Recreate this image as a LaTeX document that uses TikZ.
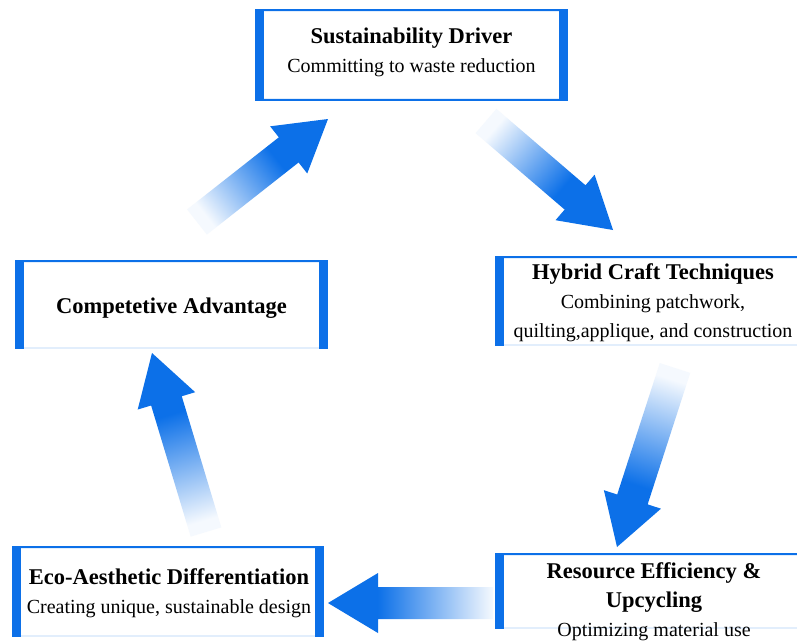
\documentclass[tikz,border=0pt]{standalone}
\usepackage{fontspec}
\setmainfont{Liberation Serif}
\usetikzlibrary{calc}

\definecolor{mainblue}{RGB}{12,112,232}
\pgfdeclarehorizontalshading{arrowfade}{100bp}{color(0bp)=(mainblue!4); color(25bp)=(mainblue!4); color(60bp)=(mainblue); color(100bp)=(mainblue)}
\newcommand{\stagetitle}{\fontsize{22.5}{29}\selectfont\bfseries}

\newcommand{\flowarrow}[2]{%
  \pgfmathanglebetweenpoints{\pgfpointanchor{#1}{center}}{\pgfpointanchor{#2}{center}}%
  \let\flowangle\pgfmathresult
  \path[flow arrow, shading angle=\flowangle]
    ($(#1)!16pt!90:(#2)$) -- ($(#2)!50pt!(#1)!16pt!-90:(#1)$) -- ($(#2)!50pt!(#1)!30pt!-90:(#1)$)
    -- (#2) -- ($(#2)!50pt!(#1)!30pt!90:(#1)$) -- ($(#2)!50pt!(#1)!16pt!90:(#1)$)
    -- ($(#1)!16pt!-90:(#2)$) -- cycle;}

\begin{document}
\begin{tikzpicture}[x=1pt,y=-1pt,
  stage/.style={rectangle,draw=mainblue!12,line width=1.5pt,fill=white,inner sep=0pt},
  sidebar/.style={mainblue,line width=9pt},
  topline/.style={mainblue,line width=2pt},
  stage text/.style={align=center,inner sep=0pt,font=\fontsize{20}{29}\selectfont},
  flow arrow/.style={shade,shading=arrowfade}]

  \fill[white] (0,0) rectangle (797,642);
  \clip (0,0) rectangle (797,642);

  \node[stage,minimum width=311pt,minimum height=88pt] (driver) at (411.5,55) {};
  \node[stage,minimum width=314pt,minimum height=87pt] (hybrid) at (653,301.5) {};
  \node[stage,minimum width=311pt,minimum height=86pt] (advantage) at (171.5,305) {};
  \node[stage,minimum width=310pt,minimum height=88pt] (eco) at (168,592) {};
  \node[stage,minimum width=316pt,minimum height=73pt] (resource) at (654,591.5) {};

  \foreach \n in {driver,hybrid,advantage,eco,resource} {
    \draw[topline] (\n.north west) -- (\n.north east);
    \draw[sidebar] ([xshift=4.5pt]\n.north west) -- ([xshift=4.5pt]\n.south west);
    \draw[sidebar] ([xshift=-4.5pt]\n.north east) -- ([xshift=-4.5pt]\n.south east);
  }
  \draw[topline] (driver.south west) -- (driver.south east);

  \node[stage text] (driverText) at (411.5,52) {{\stagetitle Sustainability Driver}\\Committing to waste reduction};
  \node[stage text] (hybridText) at (653,303) {{\stagetitle Hybrid Craft Techniques}\\Combining patchwork,\\quilting,applique, and construction};
  \node[stage text] (advantageText) at (171.5,308) {{\stagetitle Competetive Advantage}};
  \node[stage text] (ecoText) at (169,593) {{\stagetitle Eco-Aesthetic Differentiation}\\Creating unique, sustainable design};
  \node[stage text] (resourceText) at (654,602) {{\stagetitle Resource Efficiency \&}\\{\stagetitle Upcycling}\\Optimizing material use};

  \coordinate (a1t) at (486,121);
  \coordinate (a1h) at (613,230);
  \coordinate (a2t) at (675,368);
  \coordinate (a2h) at (617,547);
  \coordinate (a3t) at (493,603);
  \coordinate (a3h) at (328,603);
  \coordinate (a4t) at (206,532);
  \coordinate (a4h) at (152,353);
  \coordinate (a5t) at (197,222);
  \coordinate (a5h) at (328,119);

  \flowarrow{a1t}{a1h}
  \flowarrow{a2t}{a2h}
  \flowarrow{a3t}{a3h}
  \flowarrow{a4t}{a4h}
  \flowarrow{a5t}{a5h}

\end{tikzpicture}
\end{document}
